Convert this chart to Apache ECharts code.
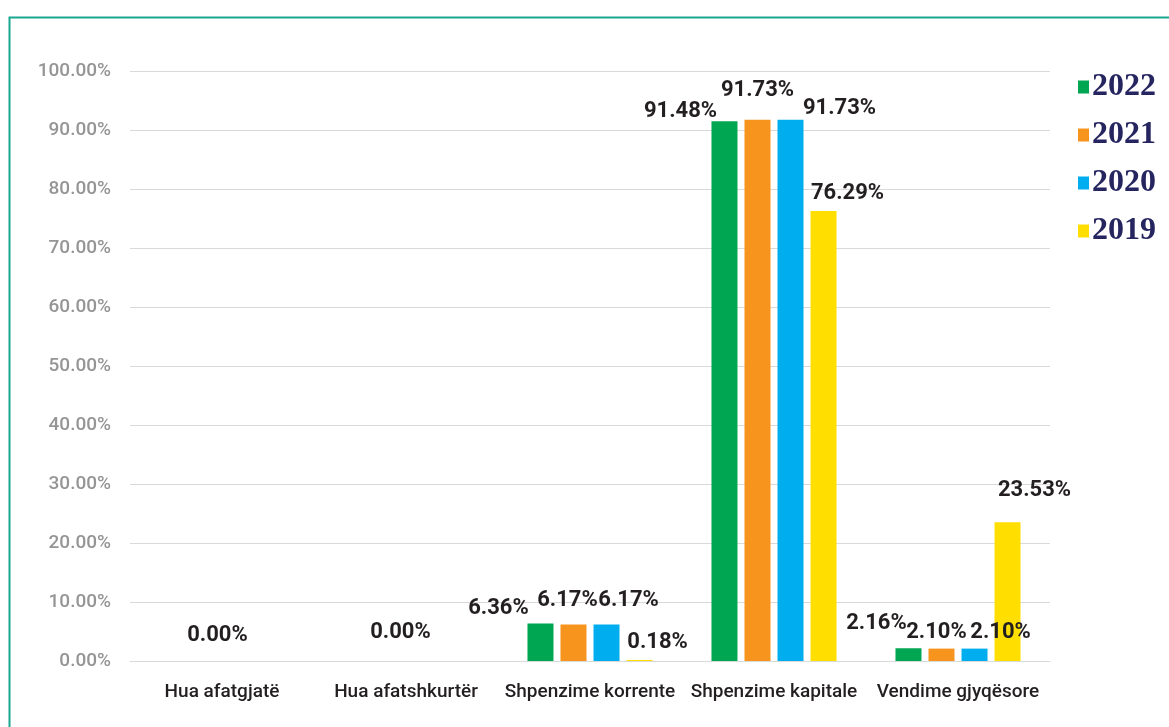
<!DOCTYPE html>
<html>
<head>
<meta charset="utf-8">
<script src="https://cdn.jsdelivr.net/npm/echarts@6/dist/echarts.min.js"></script>
<style>
  html, body { margin: 0; padding: 0; background: #fff; }
  #chart { width: 1169px; height: 727px; }
</style>
</head>
<body>
<div id="chart"></div>
<script>
var categories = ["Hua afatgjatë", "Hua afatshkurtër", "Shpenzime korrente", "Shpenzime kapitale", "Vendime gjyqësore"];
var years = ["2022", "2021", "2020", "2019"];
var values2022 = [0, 0, 6.36, 91.48, 2.16];
var values2021 = [0, 0, 6.17, 91.73, 2.10];
var values2020 = [0, 0, 6.17, 91.73, 2.10];
var values2019 = [0, 0, 0.18, 76.29, 23.53];
var colors = ["#00a651", "#f7941d", "#00aeef", "#ffde00"];

// label nudges, like the hand-placed ones in the source chart (null = no label)
var labelShift = [
  [[45, -12], [44, -15], [-42, -1], [-44, 4], [-32, -11]],
  [null, null, [-6, -10], [0, -15], [-5, -2]],
  [null, null, [22, -10], [49, 3], [26, -2]],
  [null, null, [18, -3], [24, -3], [27, -18]]
];

var narrow = 'Roboto, "DejaVu Sans", sans-serif';
var myChart = echarts.init(document.getElementById("chart"));

var allValues = [values2022, values2021, values2020, values2019];
var series = years.map(function (y, i) {
  return {
    name: y,
    type: "bar",
    barWidth: 26,
    barGap: "27%",
    itemStyle: { color: colors[i] },
    data: allValues[i].map(function (v, j) {
      var s = labelShift[i][j];
      return {
        value: v,
        label: s ? { show: true, offset: s } : { show: false }
      };
    }),
    label: {
      position: "top",
      distance: 3,
      color: "#231f20",
      fontSize: 22,
      fontWeight: "bold",
      fontFamily: narrow,
      formatter: function (p) { return p.value.toFixed(2) + "%"; }
    }
  };
});

myChart.setOption({
  animation: false,
  graphic: [{
    type: "rect",
    left: 7,
    top: 15,
    shape: { width: 1250, height: 800 },
    style: { fill: "none", stroke: "#1ba68f", lineWidth: 2 }
  }],
  legend: {
    orient: "vertical",
    left: 1073,
    top: 66,
    itemWidth: 11,
    itemHeight: 13,
    itemGap: 16,
    icon: "rect",
    data: years,
    textStyle: {
      fontFamily: '"Liberation Serif", "DejaVu Serif", serif',
      fontWeight: "bold",
      fontSize: 32,
      color: "#262560",
      padding: [0, 0, 0, -2]
    }
  },
  grid: { left: 130, right: 119, top: 71, bottom: 66 },
  xAxis: {
    type: "category",
    data: categories,
    axisLine: { lineStyle: { color: "#d9d9d9" } },
    axisTick: { show: false },
    axisLabel: {
      margin: 22,
      color: "#231f20",
      fontSize: 19,
      fontWeight: 500,
      fontFamily: narrow,
      interval: 0
    }
  },
  yAxis: {
    type: "value",
    min: 0,
    max: 100,
    interval: 10,
    axisLine: { show: false },
    axisTick: { show: false },
    splitLine: { lineStyle: { color: "#d9d9d9" } },
    axisLabel: {
      margin: 19,
      color: "#959595",
      fontSize: 19,
      fontWeight: 500,
      fontFamily: narrow,
      formatter: function (v) { return v.toFixed(2) + "%"; }
    }
  },
  series: series
});
</script>
</body>
</html>
